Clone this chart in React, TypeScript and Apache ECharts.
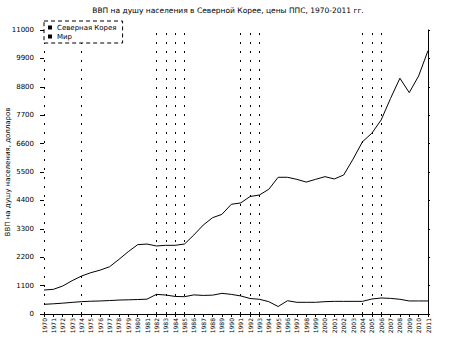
import React, { useEffect, useRef } from "react";
import * as echarts from "echarts";

const years: string[] = [];
for (let y = 1970; y <= 2011; y++) years.push(String(y));

const northKorea = [
  375, 395, 420, 450, 478, 495, 505, 520, 540, 550,
  560, 575, 760, 735, 680, 670, 740, 720, 730, 800,
  760, 700, 600, 570, 478, 290, 515, 453, 453, 453,
  478, 490, 490, 490, 490, 580, 620, 605, 570, 505,
  505, 505,
];

const world = [
  930, 955, 1085, 1290, 1470, 1600, 1700, 1830, 2115, 2415,
  2685, 2710, 2635, 2660, 2660, 2710, 3060, 3445, 3730, 3860,
  4250, 4300, 4550, 4610, 4830, 5295, 5295, 5215, 5110, 5215,
  5320, 5230, 5385, 6000, 6670, 7000, 7515, 8350, 9130, 8575,
  9220, 10200,
];

const markedYears = ["1970", "1974", "1982", "1983", "1984", "1985", "1991", "1992", "1993", "2004", "2005", "2006"];

const seriesNames = ["Северная Корея", "Мир"];
const titleText = "ВВП на душу населения в Северной Корее, цены ППС, 1970-2011 гг.";
const yAxisName = "ВВП на душу населения, долларов";

export default function App() {
  const ref = useRef<HTMLDivElement>(null);
  useEffect(() => {
    if (!ref.current) return;
    const chart = echarts.init(ref.current, null, { renderer: "svg" });
    const font = "DejaVu Sans";
    chart.setOption({
      animation: false,
      backgroundColor: "#ffffff",
      textStyle: { fontFamily: font },
      title: {
        text: titleText,
        left: "center",
        top: 1,
        textStyle: { fontSize: 7.5, fontWeight: "normal", color: "#000", fontFamily: font },
      },
      legend: {
        data: seriesNames,
        orient: "vertical",
        left: 44,
        top: 21,
        itemWidth: 4,
        itemHeight: 4,
        itemGap: 2,
        padding: [3, 6, 3, 4],
        icon: "rect",
        borderColor: "#000",
        borderWidth: 1,
        borderType: [4, 3],
        backgroundColor: "#fff",
        z: 10,
        textStyle: { fontSize: 7, color: "#000", fontFamily: font },
      },
      grid: { left: 44, right: 28, top: 30, bottom: 28, containLabel: false, outerBoundsMode: "none" },
      xAxis: [
        {
          type: "category",
          data: years,
          boundaryGap: false,
          axisLine: { show: true, lineStyle: { color: "#000", width: 1 } },
          axisTick: { show: true, length: 3, interval: 0, lineStyle: { color: "#000" } },
          axisLabel: { rotate: 90, interval: 0, fontSize: 6, margin: 4, color: "#000", fontFamily: font },
          splitLine: { show: false },
        },
        {
          type: "category",
          data: years,
          boundaryGap: false,
          position: "top",
          axisLine: { show: true, lineStyle: { color: "#000", width: 1 } },
          axisTick: { show: false },
          axisLabel: { show: false },
        },
      ],
      yAxis: [
        {
          type: "value",
          min: 0,
          max: 11000,
          interval: 1100,
          name: yAxisName,
          nameLocation: "middle",
          nameGap: 33,
          nameMoveOverlap: false,
          nameTextStyle: { fontSize: 7, color: "#000", fontFamily: font },
          axisLine: { show: false },
          axisTick: { show: true, length: 4, lineStyle: { color: "#000" } },
          axisLabel: {
            fontSize: 7,
            margin: 10,
            color: "#000",
            fontFamily: font,
            formatter: (v: number) => String(v),
          },
          splitLine: { show: false },
        },
        {
          type: "value",
          min: 0,
          max: 11000,
          interval: 1100,
          position: "right",
          axisLine: { show: true, lineStyle: { color: "#000", width: 1 } },
          axisTick: { show: true, length: 2, lineStyle: { color: "#000" } },
          axisLabel: { show: false },
          splitLine: { show: false },
        },
      ],
      series: [
        {
          name: seriesNames[0],
          type: "line",
          data: northKorea,
          symbol: "none",
          color: "#000",
          lineStyle: { color: "#000", width: 1 },
          markLine: {
            silent: true,
            symbol: "none",
            label: { show: false },
            lineStyle: { color: "#000", width: 1, type: [2, 7], dashOffset: 0 },
            data: markedYears.map((y) => ({ xAxis: y })),
          },
        },
        {
          name: seriesNames[1],
          type: "line",
          data: world,
          symbol: "none",
          color: "#000",
          lineStyle: { color: "#000", width: 1 },
        },
      ],
    });
    return () => chart.dispose();
  }, []);
  return <div ref={ref} style={{ width: 456, height: 342, position: "absolute", left: 0, top: 0 }} />;
}
